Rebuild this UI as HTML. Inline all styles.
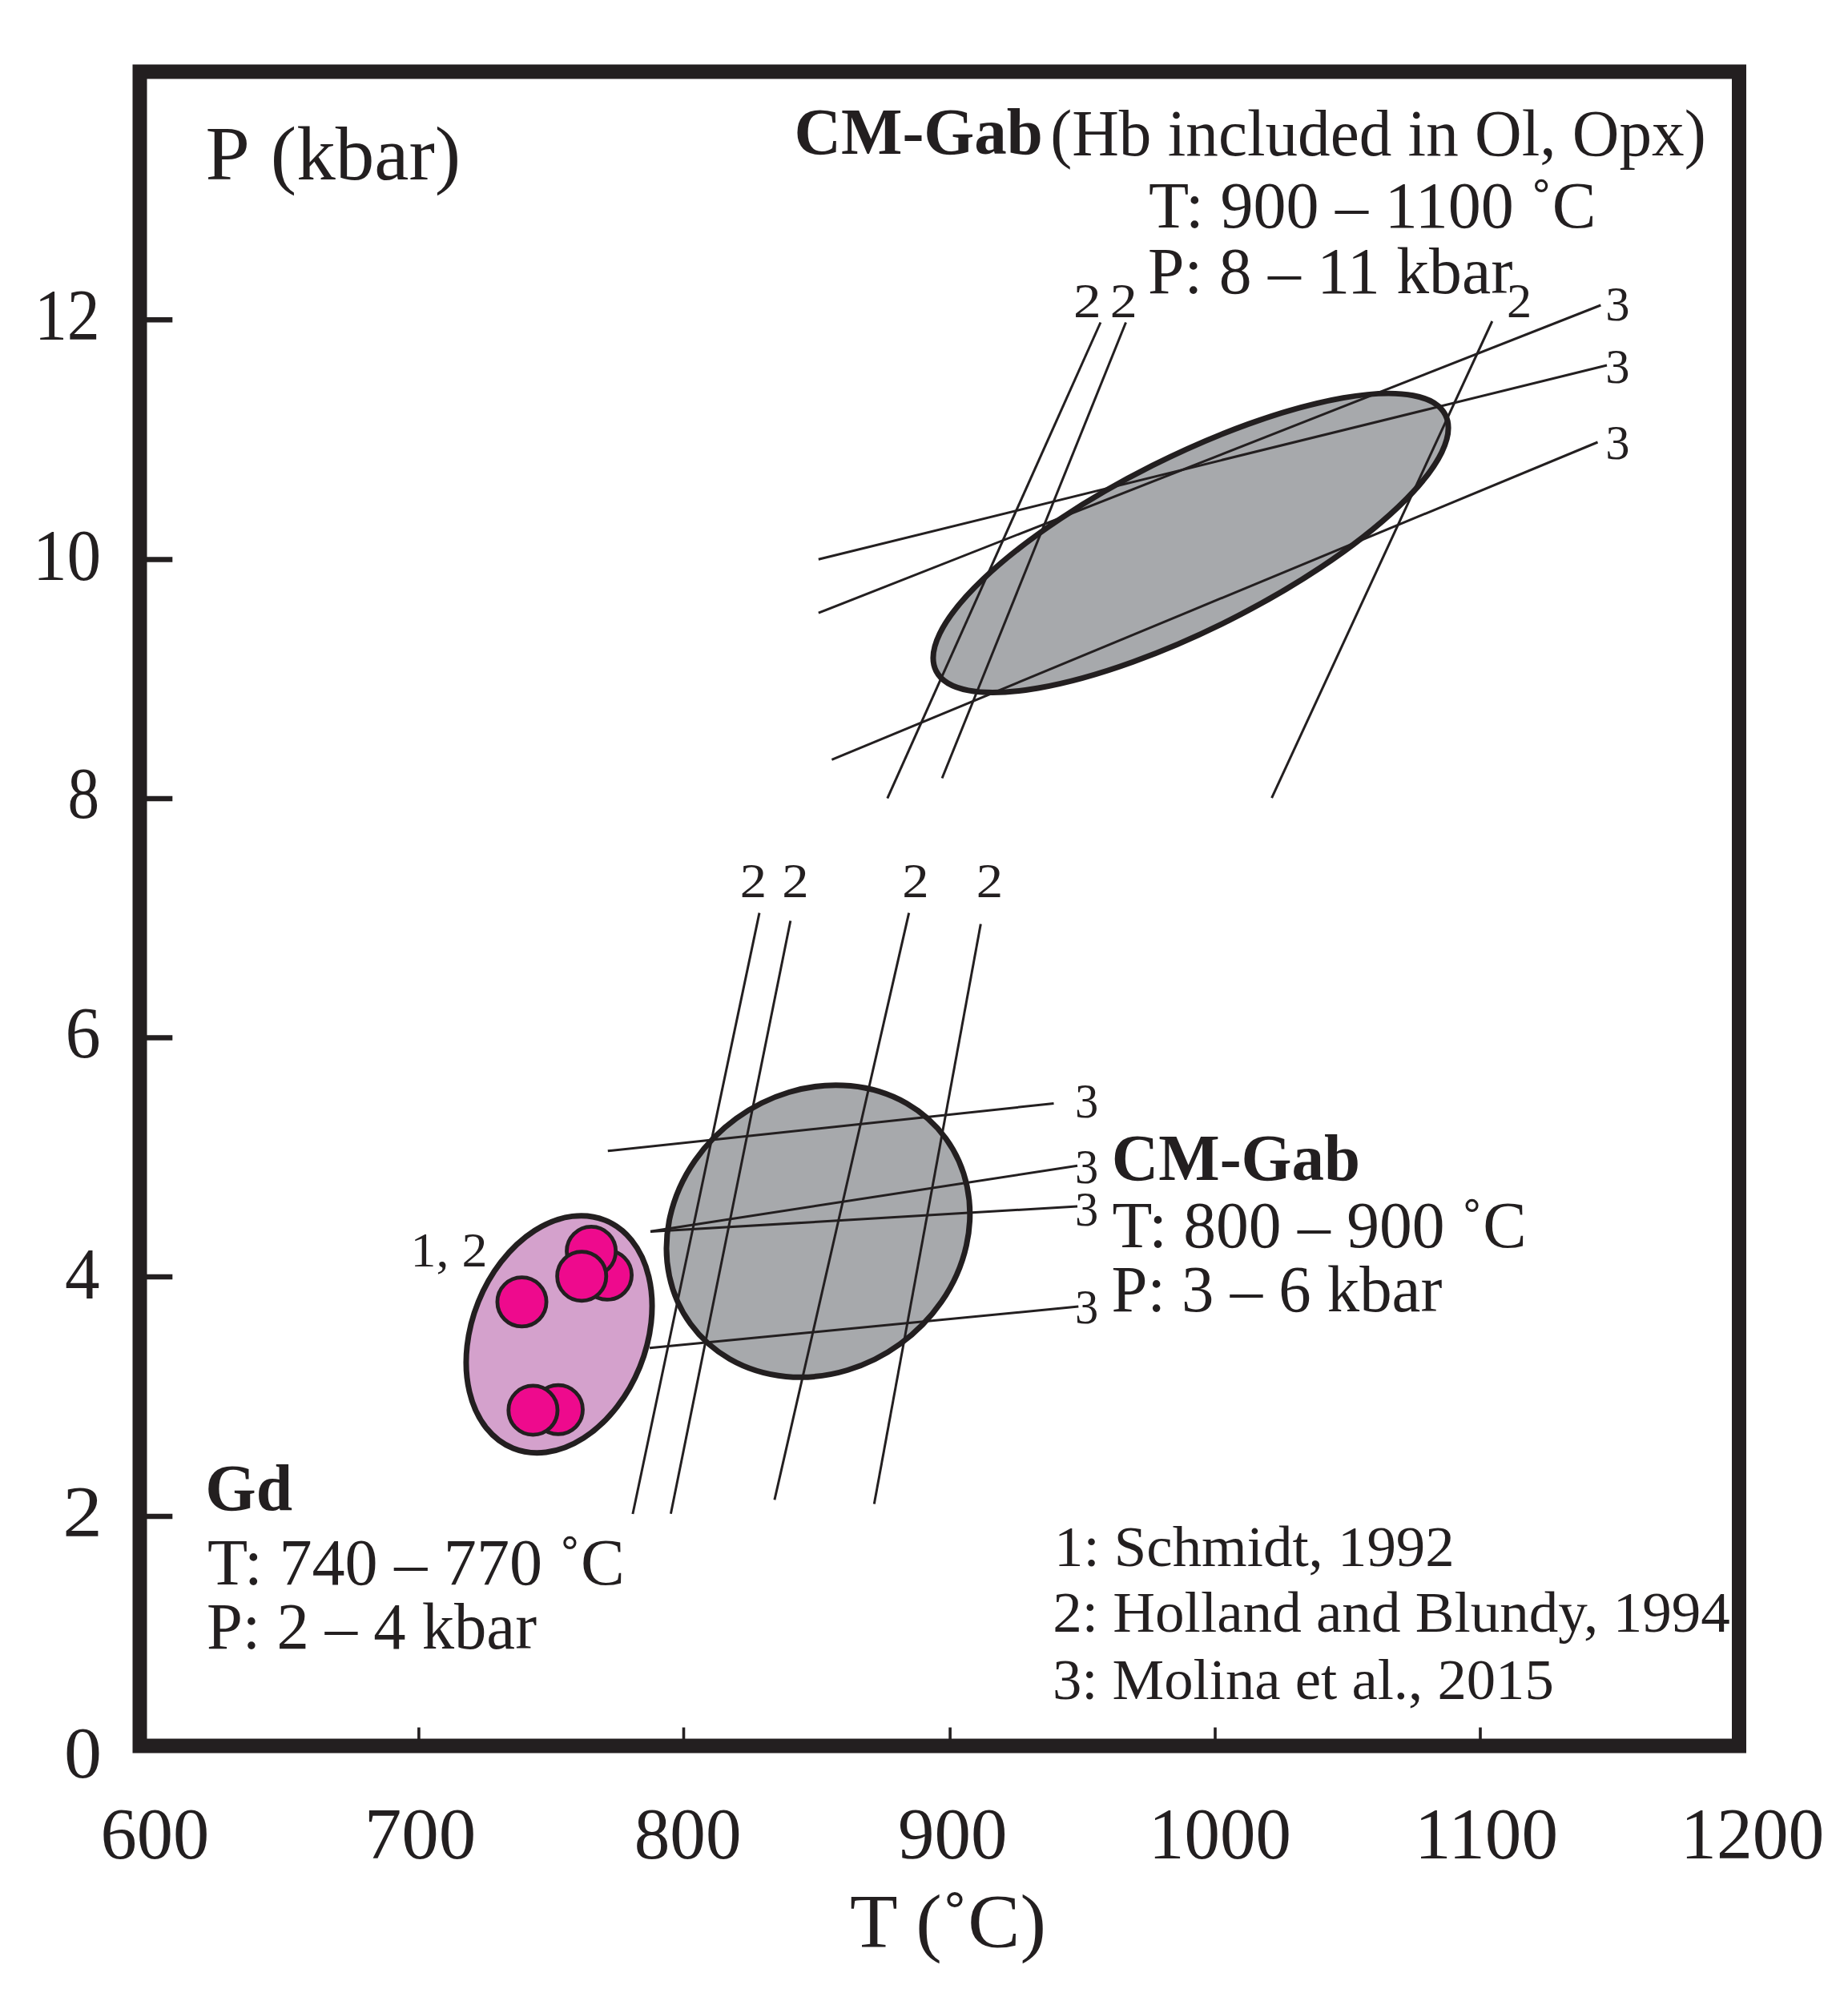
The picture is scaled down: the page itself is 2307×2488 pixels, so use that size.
<!DOCTYPE html>
<html lang="en"><head><meta charset="utf-8"><title>P-T diagram</title>
<style>
html,body{margin:0;padding:0;background:#fff}
svg{display:block}
text{font-family:"Liberation Serif","Times New Roman",serif;fill:#231f20;stroke:none}
</style></head>
<body>
<svg width="2307" height="2488" viewBox="0 0 2307 2488">
<rect width="2307" height="2488" fill="#ffffff"/>
<g stroke="#231f20" fill="none">
<ellipse cx="1486.5" cy="677.8" rx="355.8" ry="107.8" transform="rotate(-26.7 1486.5 677.8)" fill="#a7a9ac" stroke-width="7"/>
<ellipse cx="1021.4" cy="1537" rx="197" ry="174" transform="rotate(-36 1021.4 1537)" fill="#a7a9ac" stroke-width="7"/>
<ellipse cx="698" cy="1665.7" rx="153.5" ry="108.7" transform="rotate(-68 698 1665.7)" fill="#d4a1cc" stroke-width="7"/>
<circle cx="758" cy="1591.8" r="30.6" fill="#ee0a8d" stroke-width="4.8"/>
<circle cx="738.1" cy="1562" r="30.6" fill="#ee0a8d" stroke-width="4.8"/>
<circle cx="726.2" cy="1593.2" r="30.6" fill="#ee0a8d" stroke-width="4.8"/>
<circle cx="651.5" cy="1625.3" r="30.6" fill="#ee0a8d" stroke-width="4.8"/>
<circle cx="696.9" cy="1759.8" r="30.6" fill="#ee0a8d" stroke-width="4.8"/>
<circle cx="665.4" cy="1760.5" r="30.6" fill="#ee0a8d" stroke-width="4.8"/>
</g>
<g stroke="#231f20" fill="none" stroke-linecap="butt">
<line x1="1373.9" y1="402.5" x2="1107.8" y2="996.6" stroke-width="3"/>
<line x1="1405.5" y1="402.5" x2="1176.1" y2="971.5" stroke-width="3"/>
<line x1="1862.8" y1="401.0" x2="1587.6" y2="996.2" stroke-width="3"/>
<line x1="1021.8" y1="765.2" x2="1998.3" y2="381.0" stroke-width="3"/>
<line x1="1021.8" y1="698.3" x2="2006.0" y2="456.0" stroke-width="3"/>
<line x1="1038.4" y1="948.4" x2="1994.5" y2="552.0" stroke-width="3"/>
<line x1="948.0" y1="1139.6" x2="789.9" y2="1890.0" stroke-width="3"/>
<line x1="986.8" y1="1149.5" x2="837.4" y2="1889.8" stroke-width="3"/>
<line x1="1134.7" y1="1139.6" x2="966.9" y2="1872.4" stroke-width="3"/>
<line x1="1224.3" y1="1153.5" x2="1091.3" y2="1877.4" stroke-width="3"/>
<line x1="758.8" y1="1436.8" x2="1315.5" y2="1377.5" stroke-width="3"/>
<line x1="812.0" y1="1537.2" x2="1345.0" y2="1455.2" stroke-width="3"/>
<line x1="812.0" y1="1537.6" x2="1345.0" y2="1506.0" stroke-width="3"/>
<line x1="811.0" y1="1682.8" x2="1346.3" y2="1631.0" stroke-width="3"/>
</g>
<g stroke="#231f20" fill="none">
<rect x="174.5" y="89.5" width="1996.5" height="2090" fill="none" stroke-width="18"/>
<line x1="183" y1="399.2" x2="215.3" y2="399.2" stroke-width="6.5"/>
<line x1="183" y1="698.6" x2="215.3" y2="698.6" stroke-width="6.5"/>
<line x1="183" y1="997" x2="215.3" y2="997" stroke-width="6.5"/>
<line x1="183" y1="1295.5" x2="215.3" y2="1295.5" stroke-width="6.5"/>
<line x1="183" y1="1594" x2="215.3" y2="1594" stroke-width="6.5"/>
<line x1="183" y1="1893" x2="215.3" y2="1893" stroke-width="6.5"/>
<line x1="522.9" y1="2156.5" x2="522.9" y2="2172" stroke-width="3.6"/>
<line x1="853.5" y1="2156.5" x2="853.5" y2="2172" stroke-width="3.6"/>
<line x1="1186.1" y1="2156.5" x2="1186.1" y2="2172" stroke-width="3.6"/>
<line x1="1517" y1="2156.5" x2="1517" y2="2172" stroke-width="3.6"/>
<line x1="1848" y1="2156.5" x2="1848" y2="2172" stroke-width="3.6"/>
</g>
<g>
<text x="256.4" y="223.5" font-size="96" textLength="55.4" lengthAdjust="spacingAndGlyphs">P</text>
<text x="337.8" y="223.5" font-size="96" textLength="237.3" lengthAdjust="spacingAndGlyphs">(kbar)</text>
<text x="991.6" y="191.5" font-size="82" font-weight="bold" textLength="310.2" lengthAdjust="spacingAndGlyphs">CM-Gab</text>
<text x="1311.2" y="193.6" font-size="82" textLength="818.5" lengthAdjust="spacingAndGlyphs">(Hb included in Ol, Opx)</text>
<text x="1434.0" y="284.0" font-size="82" textLength="558.5" lengthAdjust="spacingAndGlyphs">T: 900 – 1100 ˚C</text>
<text x="1433.1" y="366.2" font-size="82" textLength="455.3" lengthAdjust="spacingAndGlyphs">P: 8 – 11 kbar</text>
<text x="1340.1" y="395.7" font-size="62" textLength="34.7" lengthAdjust="spacingAndGlyphs">2</text>
<text x="1385.8" y="395.7" font-size="62" textLength="34.0" lengthAdjust="spacingAndGlyphs">2</text>
<text x="1881.0" y="395.7" font-size="62" textLength="31.2" lengthAdjust="spacingAndGlyphs">2</text>
<text x="2004.2" y="400.3" font-size="62" textLength="30.3" lengthAdjust="spacingAndGlyphs">3</text>
<text x="2004.2" y="477.5" font-size="62" textLength="30.3" lengthAdjust="spacingAndGlyphs">3</text>
<text x="2004.2" y="573.0" font-size="62" textLength="30.3" lengthAdjust="spacingAndGlyphs">3</text>
<text x="42.9" y="424.0" font-size="90" textLength="81.8" lengthAdjust="spacingAndGlyphs">12</text>
<text x="40.9" y="724.0" font-size="90" textLength="85.4" lengthAdjust="spacingAndGlyphs">10</text>
<text x="84.6" y="1021.0" font-size="90" textLength="39.6" lengthAdjust="spacingAndGlyphs">8</text>
<text x="81.5" y="1320.0" font-size="90" textLength="44.2" lengthAdjust="spacingAndGlyphs">6</text>
<text x="80.9" y="1620.5" font-size="90" textLength="43.6" lengthAdjust="spacingAndGlyphs">4</text>
<text x="78.3" y="1918.0" font-size="90" textLength="49.6" lengthAdjust="spacingAndGlyphs">2</text>
<text x="80.0" y="2218.6" font-size="90" textLength="47.0" lengthAdjust="spacingAndGlyphs">0</text>
<text x="125.4" y="2319.5" font-size="90" textLength="135.8" lengthAdjust="spacingAndGlyphs">600</text>
<text x="454.8" y="2319.5" font-size="90" textLength="139.6" lengthAdjust="spacingAndGlyphs">700</text>
<text x="791.7" y="2319.5" font-size="90" textLength="133.8" lengthAdjust="spacingAndGlyphs">800</text>
<text x="1120.9" y="2319.5" font-size="90" textLength="136.5" lengthAdjust="spacingAndGlyphs">900</text>
<text x="1434.1" y="2319.5" font-size="90" textLength="177.8" lengthAdjust="spacingAndGlyphs">1000</text>
<text x="1766.0" y="2319.5" font-size="90" textLength="179.1" lengthAdjust="spacingAndGlyphs">1100</text>
<text x="2098.1" y="2319.5" font-size="90" textLength="179.3" lengthAdjust="spacingAndGlyphs">1200</text>
<text x="1061.1" y="2431.2" font-size="95" textLength="244.9" lengthAdjust="spacingAndGlyphs">T (˚C)</text>
<text x="923.8" y="1119.6" font-size="62" textLength="33.4" lengthAdjust="spacingAndGlyphs">2</text>
<text x="976.2" y="1119.6" font-size="62" textLength="33.4" lengthAdjust="spacingAndGlyphs">2</text>
<text x="1126.3" y="1119.6" font-size="62" textLength="33.4" lengthAdjust="spacingAndGlyphs">2</text>
<text x="1218.8" y="1119.6" font-size="62" textLength="33.4" lengthAdjust="spacingAndGlyphs">2</text>
<text x="1342.0" y="1394.7" font-size="62" textLength="29.2" lengthAdjust="spacingAndGlyphs">3</text>
<text x="1342.0" y="1476.6" font-size="62" textLength="29.2" lengthAdjust="spacingAndGlyphs">3</text>
<text x="1342.0" y="1529.6" font-size="62" textLength="29.2" lengthAdjust="spacingAndGlyphs">3</text>
<text x="1342.0" y="1652.1" font-size="62" textLength="29.2" lengthAdjust="spacingAndGlyphs">3</text>
<text x="512.6" y="1581.0" font-size="62" textLength="95.8" lengthAdjust="spacingAndGlyphs">1, 2</text>
<text x="1387.8" y="1472.6" font-size="82" font-weight="bold" textLength="310.3" lengthAdjust="spacingAndGlyphs">CM-Gab</text>
<text x="1388.4" y="1556.7" font-size="82" textLength="517.3" lengthAdjust="spacingAndGlyphs">T: 800 – 900 ˚C</text>
<text x="1387.5" y="1637.3" font-size="82" textLength="412.8" lengthAdjust="spacingAndGlyphs">P: 3 – 6 kbar</text>
<text x="256.3" y="1885.2" font-size="82" font-weight="bold" textLength="108.8" lengthAdjust="spacingAndGlyphs">Gd</text>
<text x="258.9" y="1978.3" font-size="82" textLength="521.0" lengthAdjust="spacingAndGlyphs">T: 740 – 770 ˚C</text>
<text x="258.0" y="2057.8" font-size="82" textLength="412.0" lengthAdjust="spacingAndGlyphs">P: 2 – 4 kbar</text>
<text x="1316.0" y="1954.6" font-size="72.5" textLength="499.7" lengthAdjust="spacingAndGlyphs">1: Schmidt, 1992</text>
<text x="1314.2" y="2036.7" font-size="72.5" textLength="845.6" lengthAdjust="spacingAndGlyphs">2: Holland and Blundy, 1994</text>
<text x="1313.9" y="2121.4" font-size="72.5" textLength="625.9" lengthAdjust="spacingAndGlyphs">3: Molina et al., 2015</text>
</g>
</svg>
</body></html>
